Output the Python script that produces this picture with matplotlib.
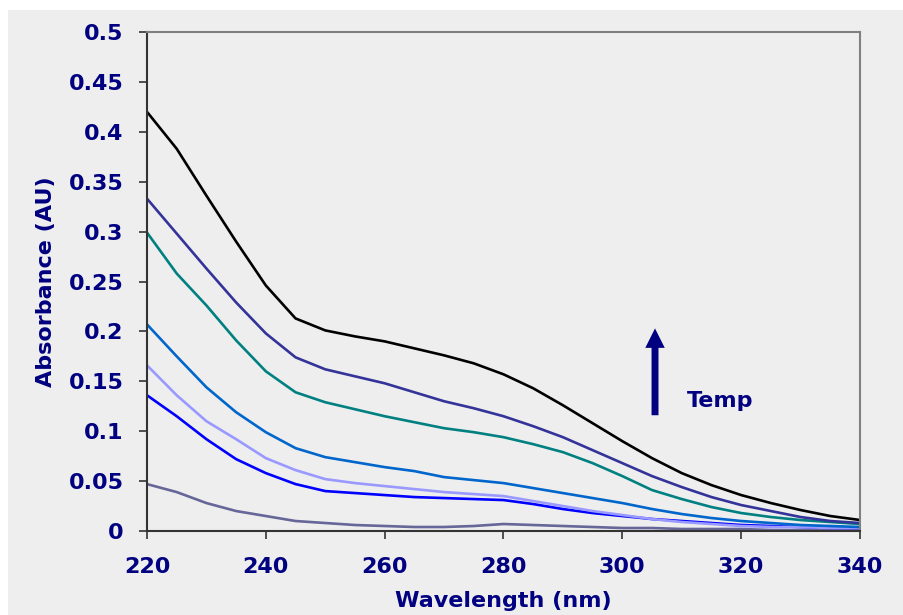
#!/usr/bin/env python3
# Absorbance spectra vs temperature (UV range), recreated from reference image.
import matplotlib
matplotlib.use("Agg")
import matplotlib.pyplot as plt
from matplotlib.patches import Rectangle

NAVY = "#000080"

wavelength = [220, 225, 230, 235, 240, 245, 250, 255, 260, 265, 270, 275, 280,
              285, 290, 295, 300, 305, 310, 315, 320, 325, 330, 335, 340]

# lowest temperature -> highest temperature
abs_t1 = [0.047, 0.039, 0.028, 0.020, 0.015, 0.010, 0.008, 0.006, 0.005, 0.004, 0.004, 0.005, 0.007,
          0.006, 0.005, 0.004, 0.003, 0.003, 0.002, 0.002, 0.002, 0.001, 0.001, 0.001, 0.001]
abs_t2 = [0.136, 0.115, 0.092, 0.072, 0.058, 0.047, 0.040, 0.038, 0.036, 0.034, 0.033, 0.032, 0.031,
          0.027, 0.022, 0.018, 0.015, 0.012, 0.010, 0.008, 0.006, 0.005, 0.004, 0.003, 0.003]
abs_t3 = [0.166, 0.136, 0.110, 0.092, 0.073, 0.061, 0.052, 0.048, 0.045, 0.042, 0.039, 0.037, 0.035,
          0.030, 0.025, 0.020, 0.016, 0.012, 0.009, 0.007, 0.005, 0.004, 0.004, 0.003, 0.003]
abs_t4 = [0.207, 0.175, 0.144, 0.119, 0.099, 0.083, 0.074, 0.069, 0.064, 0.060, 0.054, 0.051, 0.048,
          0.043, 0.038, 0.033, 0.028, 0.022, 0.017, 0.013, 0.010, 0.008, 0.006, 0.005, 0.004]
abs_t5 = [0.299, 0.258, 0.226, 0.191, 0.160, 0.139, 0.129, 0.122, 0.115, 0.109, 0.103, 0.099, 0.094,
          0.087, 0.079, 0.068, 0.055, 0.041, 0.032, 0.024, 0.018, 0.014, 0.011, 0.009, 0.007]
abs_t6 = [0.333, 0.298, 0.263, 0.229, 0.198, 0.174, 0.162, 0.155, 0.148, 0.139, 0.130, 0.123, 0.115,
          0.105, 0.094, 0.081, 0.068, 0.055, 0.044, 0.034, 0.026, 0.020, 0.014, 0.010, 0.008]
abs_t7 = [0.420, 0.383, 0.336, 0.290, 0.246, 0.213, 0.201, 0.195, 0.190, 0.183, 0.176, 0.168, 0.157,
          0.143, 0.126, 0.108, 0.090, 0.073, 0.058, 0.046, 0.036, 0.028, 0.021, 0.015, 0.011]

series = [abs_t1, abs_t2, abs_t3, abs_t4, abs_t5, abs_t6, abs_t7]
colors = ["#666699", "#0000FF", "#9999FF", "#0066CC", "#008080", "#333399", "#000000"]

xticks = [220, 240, 260, 280, 300, 320, 340]
yticks = [0, 0.05, 0.1, 0.15, 0.2, 0.25, 0.3, 0.35, 0.4, 0.45, 0.5]
ytick_labels = ["0", "0.05", "0.1", "0.15", "0.2", "0.25", "0.3", "0.35", "0.4", "0.45", "0.5"]

W, H = 904, 615
fig = plt.figure(figsize=(W / 100, H / 100), dpi=100, facecolor="white")
# grey slide-style backdrop
fig.patches.append(Rectangle((8 / W, 0), 1 - 8 / W, 1 - 10 / H, transform=fig.transFigure,
                             facecolor="#eeeeee", edgecolor="none", zorder=-10))

ax = fig.add_axes([147 / W, 84 / H, 713 / W, 499 / H])
ax.set_facecolor("none")

for ys, c in zip(series, colors):
    ax.plot(wavelength, ys, color=c, lw=1.9, solid_joinstyle="round")

ax.set_xlim(220, 340)
ax.set_ylim(0, 0.5)
ax.set_xticks(xticks)
ax.set_yticks(yticks)
ax.set_yticklabels(ytick_labels)

for lab in ax.get_xticklabels() + ax.get_yticklabels():
    lab.set_fontweight("bold")
    lab.set_color(NAVY)
ax.tick_params(axis="both", direction="out", length=6, width=1.2, color="#333333", labelsize=16)
ax.tick_params(axis="y", pad=11)
ax.tick_params(axis="x", pad=13)

for s in ("top", "right"):
    ax.spines[s].set_color("#808080")
    ax.spines[s].set_linewidth(1.5)
for s in ("left", "bottom"):
    ax.spines[s].set_color("#333333")
    ax.spines[s].set_linewidth(1.5)

ax.set_xlabel("Wavelength (nm)", fontsize=16, fontweight="bold", color=NAVY, labelpad=10)
ax.set_ylabel("Absorbance (AU)", fontsize=16, fontweight="bold", color=NAVY, labelpad=9)

ax.annotate("", xy=(305.5, 0.203), xytext=(305.5, 0.116),
            arrowprops=dict(facecolor=NAVY, edgecolor="none", width=5, headwidth=14,
                            headlength=14, shrink=0))
ax.text(310.9, 0.130, "Temp", fontsize=16, fontweight="bold", color=NAVY, va="center", ha="left")

fig.savefig("out.png", dpi=100, facecolor=fig.get_facecolor())
